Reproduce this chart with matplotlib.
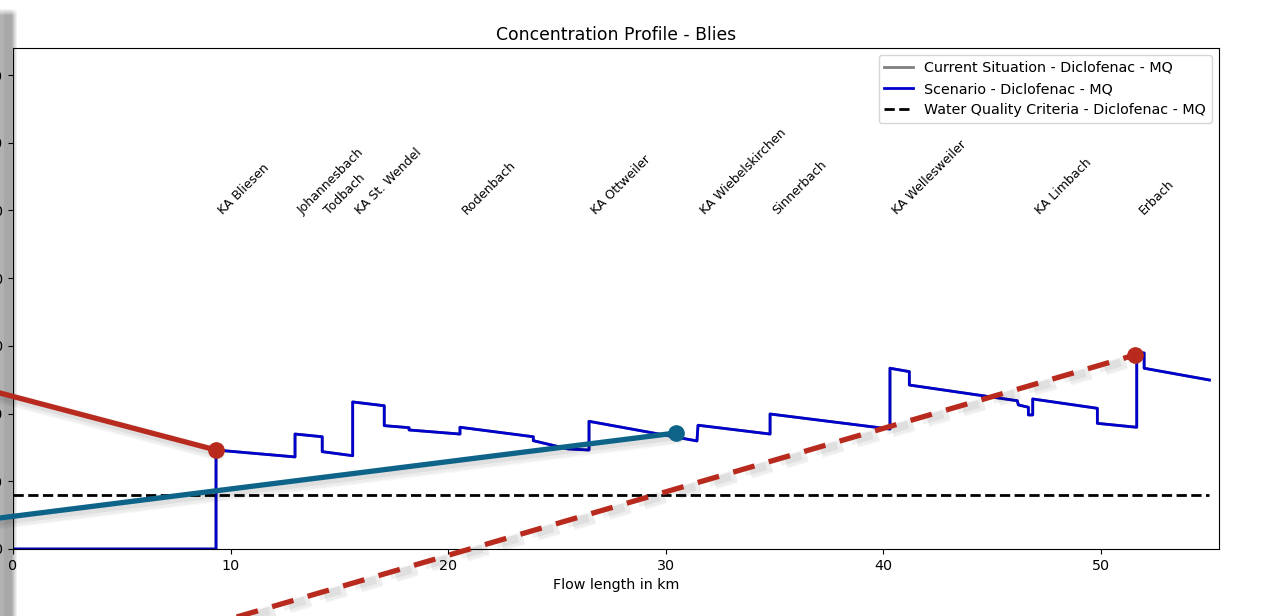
import numpy as np
import matplotlib
matplotlib.use("Agg")
import matplotlib.pyplot as plt
import matplotlib.patheffects as pe

# %%
# river profile (km, concentration) - step vertices incl. inflow jumps
km = [0.0, 9.33, 9.33, 12.96, 12.96, 14.21, 14.21, 15.61, 15.61, 17.06, 17.06,
      18.20, 18.20, 20.54, 20.54, 23.91, 23.91, 25.51, 26.47, 26.47, 31.43,
      31.48, 34.79, 34.79, 40.30, 40.30, 41.19, 41.19, 46.15, 46.20, 46.66,
      46.66, 46.86, 46.86, 49.83, 49.83, 51.64, 51.64, 51.98, 51.98, 54.98]
conc = [0.0, 0.0, 73.1, 68.0, 84.9, 82.9, 71.9, 68.9, 108.6, 105.8, 91.1,
        89.6, 87.9, 84.9, 89.9, 82.9, 80.0, 73.9, 73.1, 94.3, 79.8,
        91.4, 84.9, 99.7, 88.6, 133.5, 131.0, 121.1, 109.5, 106.4, 104.7,
        99.0, 99.0, 110.8, 103.9, 92.8, 89.9, 145.0, 144.8, 133.5, 124.8]
criteria = 40.0

sites = ["KA Bliesen", "Johannesbach", "Todbach", "KA St. Wendel", "Rodenbach",
         "KA Ottweiler", "KA Wiebelskirchen", "Sinnerbach", "KA Wellesweiler",
         "KA Limbach", "Erbach"]
site_km = [9.33, 12.96, 14.21, 15.61, 20.54, 26.47, 31.48, 34.79, 40.30,
           46.86, 51.64]
label_y = 245

# highlight strokes (start, end) in km / concentration
red_x, red_y = [-1.5, 9.33], [119.0, 73.1]
teal_x, teal_y = [-1.5, 30.47], [21.1, 85.7]
dash_x, dash_y = [8.0, 51.56], [-60.9, 143.3]

# %%
plt.rcParams["font.size"] = 10.3
fig = plt.figure(figsize=(12.68, 6.16), dpi=100, facecolor="white")

# grey band on the left edge
band = np.ones((608, 18, 4))
band[:, :, :3] = 0.66
band[:, :4, :3] = 0.70
fade = np.ones(18)
fade[11:] = np.linspace(1, 0, 7)
band[:, :, 3] = fade[None, :]
band[:8, :, 3] *= np.linspace(0, 1, 8)[:, None]
fig.figimage(band, xo=0, yo=0, origin="upper", zorder=-1)

ax = fig.add_axes([13 / 1268, 1 - 549 / 616, (1219 - 13) / 1268, (549 - 48) / 616])
ax.set_facecolor("none")

ax.plot(km, conc, color="grey", lw=2, label="Current Situation - Diclofenac - MQ")
ax.plot(km, conc, color="mediumblue", lw=2, label="Scenario - Diclofenac - MQ")
ax.plot([0, km[-1]], [criteria, criteria], color="black", lw=2, ls="--",
        label="Water Quality Criteria - Diclofenac - MQ")

for name, x in zip(sites, site_km):
    ax.text(x, label_y, name, rotation=45, ha="left", va="bottom", fontsize=9)

ax.set_xlim(0, 55.42)
ax.set_ylim(0, 370)
ax.set_yticks(np.arange(0, 351, 50))
ax.set_xlabel("Flow length in km")
ax.set_title("Concentration Profile - Blies", fontsize=12.4)
ax.legend(loc="upper right")

# %%
shadow = [pe.SimpleLineShadow(offset=(2, -3), shadow_color="black", alpha=0.03, linewidth=10),
          pe.SimpleLineShadow(offset=(2, -3), shadow_color="black", alpha=0.04, linewidth=8),
          pe.SimpleLineShadow(offset=(1.5, -2), shadow_color="black", alpha=0.06, linewidth=6),
          pe.Normal()]

ax.plot(red_x, red_y, color="#b82a1e", lw=3.8, solid_capstyle="round",
        clip_on=False, zorder=5, path_effects=shadow)
ax.plot(teal_x, teal_y, color="#0e6488", lw=3.8, solid_capstyle="round",
        clip_on=False, zorder=5, path_effects=shadow)
ax.plot(dash_x, dash_y, color="#b82a1e", lw=3.8, dashes=(4.2, 2.8),
        clip_on=False, zorder=5, path_effects=shadow)

ax.plot(red_x[-1], red_y[-1], "o", color="#b82a1e", ms=11, clip_on=False, zorder=6)
ax.plot(teal_x[-1], teal_y[-1], "o", color="#0e6488", ms=11, clip_on=False, zorder=6)
ax.plot(dash_x[-1], dash_y[-1], "o", color="#b82a1e", ms=11, clip_on=False, zorder=6)

fig.savefig("out.png", dpi=100)
